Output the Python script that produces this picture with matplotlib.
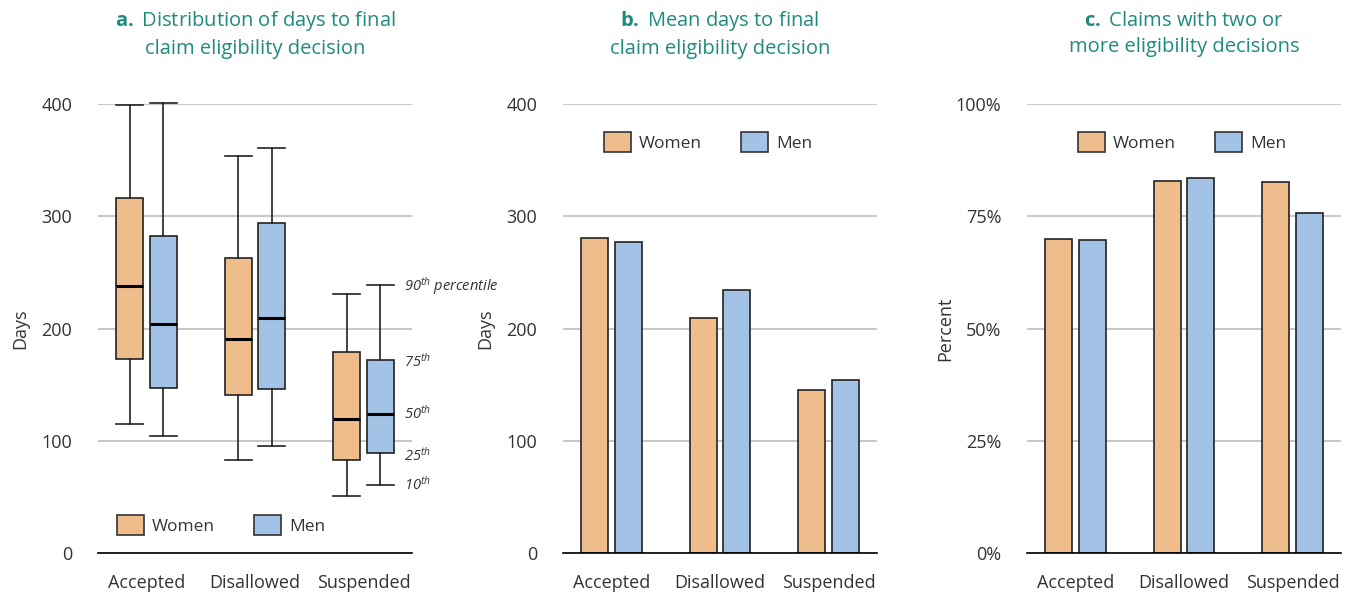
import numpy as np
import matplotlib.pyplot as plt
from matplotlib.patches import Patch

plt.rcParams['font.family'] = ['Open Sans', 'DejaVu Sans']
plt.rcParams['mathtext.fontset'] = 'custom'
plt.rcParams['mathtext.rm'] = 'Open Sans'
plt.rcParams['mathtext.it'] = 'Open Sans:italic'
plt.rcParams['mathtext.bf'] = 'Open Sans:bold'

categories = ['Accepted', 'Disallowed', 'Suspended']

# panel a: percentiles (10th, 25th, 50th, 75th, 90th)
women_p10 = [115, 83, 51]
women_p25 = [173, 141, 83]
women_p50 = [238, 191, 119]
women_p75 = [316, 263, 179]
women_p90 = [399, 354, 231]

men_p10 = [104, 95, 61]
men_p25 = [147, 146, 89]
men_p50 = [204, 209, 124]
men_p75 = [282, 294, 172]
men_p90 = [401, 361, 239]

# panel b: mean days
women_mean = [281, 209, 145]
men_mean = [277, 234, 154]

# panel c: percent with two or more decisions
women_pct = [70.0, 82.8, 82.6]
men_pct = [69.8, 83.6, 75.7]

c_women = '#efbd8b'
c_men = '#a2c2e6'
c_title = '#1f8b7f'
c_grid = '#bdbdbd'
c_text = '#333333'

fig = plt.figure(figsize=(13.48, 5.92), dpi=100)
W, H = 1348, 592


def make_ax(left_px, right_px):
    ax = fig.add_axes([left_px / W, (H - 553) / H, (right_px - left_px) / W, 449 / H])
    for s in ['left', 'right', 'top']:
        ax.spines[s].set_visible(False)
    ax.spines['bottom'].set_color('black')
    ax.spines['bottom'].set_linewidth(1.2)
    ax.tick_params(length=0, labelsize=13, colors=c_text)
    ax.tick_params(axis='x', pad=15)
    ax.tick_params(axis='y', pad=18.5)
    ax.yaxis.grid(True, color=c_grid, linewidth=1.2)
    ax.set_axisbelow(True)
    return ax


def set_cats(ax):
    m = 48.5 / 108.5
    ax.set_xlim(-m, 2 + m)
    ax.set_xticks(range(3))
    ax.set_xticklabels(categories)


x = np.arange(3)
off = 0.154
bw = 0.245

# ---- panel a
axa = make_ax(98, 412)
stats_w = [dict(whislo=women_p10[i], q1=women_p25[i], med=women_p50[i],
                q3=women_p75[i], whishi=women_p90[i], fliers=[]) for i in range(3)]
stats_m = [dict(whislo=men_p10[i], q1=men_p25[i], med=men_p50[i],
                q3=men_p75[i], whishi=men_p90[i], fliers=[]) for i in range(3)]
for stats, pos, col in [(stats_w, x - off, c_women), (stats_m, x + off, c_men)]:
    bp = axa.bxp(stats, positions=pos, widths=bw, patch_artist=True, showfliers=False,
                 manage_ticks=False,
                 boxprops=dict(facecolor=col, edgecolor='#222222', linewidth=1.2),
                 medianprops=dict(color='black', linewidth=2.2),
                 whiskerprops=dict(color='#222222', linewidth=1.2),
                 capprops=dict(color='#222222', linewidth=1.2),
                 capwidths=bw)
    for art in bp['whiskers'] + bp['caps'] + bp['boxes'] + bp['medians']:
        art.set_clip_on(False)
set_cats(axa)
axa.set_ylim(0, 400)
axa.set_yticks([0, 100, 200, 300, 400])
axa.set_ylabel('Days', fontsize=13, color=c_text, labelpad=9)

labels = [r'90$^{\mathit{th}}$ percentile', r'75$^{\mathit{th}}$', r'50$^{\mathit{th}}$',
          r'25$^{\mathit{th}}$', r'10$^{\mathit{th}}$']
vals = [men_p90[2] - 1, men_p75[2] - 2, men_p50[2], men_p25[2] - 2, men_p10[2]]
for lab, v in zip(labels, vals):
    axa.text(2 + off + bw / 2 + 0.1, v, lab, fontsize=10.5, style='italic',
             color=c_text, va='center', ha='left', clip_on=False)


def add_legend(ax, anchor):
    handles = [Patch(facecolor=c_women, edgecolor='#333333', linewidth=1.2, label='Women'),
               Patch(facecolor=c_men, edgecolor='#333333', linewidth=1.2, label='Men')]
    ax.legend(handles=handles, ncol=2, frameon=False, fontsize=12.5,
              loc='center left', bbox_to_anchor=anchor,
              handlelength=1.55, handleheight=1.4, handletextpad=0.45,
              columnspacing=2.3, labelcolor=c_text)


add_legend(axa, (0.01, 0.062))

# ---- panel b
axb = make_ax(563, 877)
axb.bar(x - off, women_mean, width=bw, color=c_women, edgecolor='#222222', linewidth=1.2)
axb.bar(x + off, men_mean, width=bw, color=c_men, edgecolor='#222222', linewidth=1.2)
set_cats(axb)
axb.set_ylim(0, 400)
axb.set_yticks([0, 100, 200, 300, 400])
axb.set_ylabel('Days', fontsize=13, color=c_text, labelpad=9)
add_legend(axb, (0.08, 0.915))

# ---- panel c
axc = make_ax(1027, 1341)
axc.bar(x - off, women_pct, width=bw, color=c_women, edgecolor='#222222', linewidth=1.2)
axc.bar(x + off, men_pct, width=bw, color=c_men, edgecolor='#222222', linewidth=1.2)
set_cats(axc)
axc.set_ylim(0, 100)
axc.set_yticks([0, 25, 50, 75, 100])
axc.set_yticklabels(['0%', '25%', '50%', '75%', '100%'])
axc.set_ylabel('Percent', fontsize=13, color=c_text, labelpad=1)
add_legend(axc, (0.112, 0.915))

# titles
titles = [(r'$\bf{a.}$ Distribution of days to final' + '\nclaim eligibility decision', 255),
          (r'$\bf{b.}$ Mean days to final' + '\nclaim eligibility decision', 720),
          (r'$\bf{c.}$ Claims with two or' + '\nmore eligibility decisions', 1184)]
for t, cx in titles:
    fig.text(cx / W, 1 - 34 / H, t, ha='center', va='center', fontsize=14.5,
             color=c_title, linespacing=1.35)

fig.savefig('out.png', dpi=100)
